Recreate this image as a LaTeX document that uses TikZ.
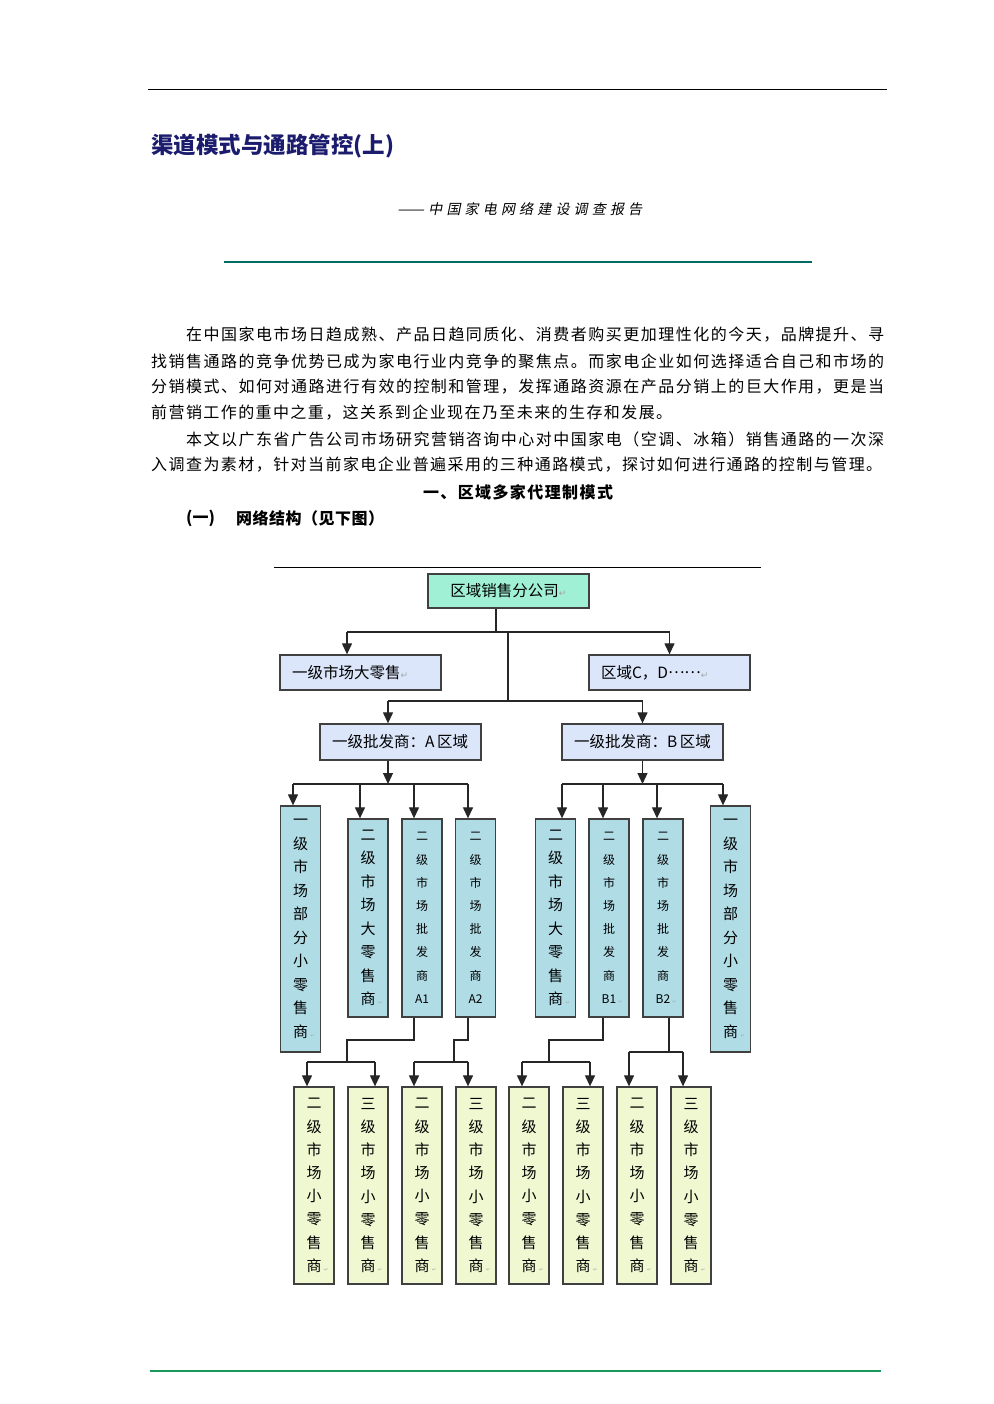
\documentclass[tikz,border=0pt]{standalone}
\usepackage{fontspec}
\usetikzlibrary{arrows.meta}
\setmainfont{Noto Sans CJK SC}
\newfontfamily\cjk{Noto Sans CJK SC}
\newfontfamily\cjkit[FakeSlant=0.2]{Noto Sans CJK SC}
\newfontfamily\dejavu{DejaVu Sans}
\definecolor{navy}{HTML}{1C1C6E}
\definecolor{tealrule}{HTML}{006B60}
\definecolor{greenrule}{HTML}{18995A}
\definecolor{mint}{HTML}{9FF0D4}
\definecolor{lav}{HTML}{DCE6FA}
\definecolor{lblue}{HTML}{B0DCE6}
\definecolor{pale}{HTML}{F0F8D2}
\definecolor{edge}{HTML}{404040}
\makeatletter
\def\spreadchars#1{#1\spread@next}
\def\spread@next#1{\ifx#1\relax\else\hfil#1\expandafter\spread@next\fi}
\makeatother
\newcommand{\mkrow}{\textcolor{gray!70}{\dejavu\fontsize{9}{9}\selectfont ↵}}
\newcommand{\mk}{\rlap{\,\textcolor{gray!70}{\dejavu\fontsize{5}{5}\selectfont ↵}}}
\newcommand{\bodyfont}{\cjk\fontsize{16}{18}\selectfont}
\begin{document}
\begin{tikzpicture}[x=1pt,y=-1pt,
  conn/.style={draw=black!85,line width=1.2pt},
  arr/.style={conn,-{Triangle[width=10pt,length=11pt]}},
  boxbase/.style={draw=edge,line width=1.3pt,inner sep=0pt},
  topbox/.style={boxbase,fill=mint,minimum width=161pt,minimum height=34pt,font=\cjk\fontsize{15.5}{18}\selectfont},
  rowbox/.style={boxbase,fill=lav,minimum width=161pt,minimum height=35pt,font=\cjk\fontsize{15.5}{18}\selectfont},
  vbox/.style={boxbase,fill=lblue,minimum width=40pt,minimum height=198pt,align=center,font=\cjk\fontsize{15}{23.5}\selectfont},
  vboxs/.style={vbox,font=\cjk\fontsize{12}{23.2}\selectfont},
  tallbox/.style={vbox,minimum height=246pt},
  botbox/.style={vbox,fill=pale,minimum height=197pt,font=\cjk\fontsize{15}{23.2}\selectfont},
  line/.style={inner sep=0pt,anchor=west,font=\bodyfont}
]
\fill[white] (0,0) rectangle (993,1404);
\useasboundingbox (0,0) rectangle (993,1404);

% page rules
\draw[black,line width=1pt] (148,90) -- (887,90);
\draw[tealrule,line width=2.2pt] (224,262) -- (812,262);
\draw[greenrule,line width=2.2pt] (150,1371) -- (881,1371);

% title
\node[inner sep=0pt,anchor=west,text=navy,font=\cjk\bfseries\fontsize{22.5}{26}\selectfont] (title) at (151,146) {渠道模式与通路管控(上)};
\node[inner sep=0pt,anchor=west,font=\cjkit\fontsize{14}{16}\selectfont] (subtitle) at (397,209) {\makebox[245pt][s]{\scalebox{1.15}[1]{——}\hfil\spreadchars 中国家电网络建设调查报告\relax}};

% body
\node[line] (p1) at (186,335) {\makebox[698pt][s]{\spreadchars 在中国家电市场日趋成熟、产品日趋同质化、消费者购买更加理性化的今天，品牌提升、寻\relax}};
\node[line] (p2) at (151,361) {\makebox[733pt][s]{\spreadchars 找销售通路的竞争优势已成为家电行业内竞争的聚焦点。而家电企业如何选择适合自己和市场的\relax}};
\node[line] (p3) at (151,387) {\makebox[733pt][s]{\spreadchars 分销模式、如何对通路进行有效的控制和管理，发挥通路资源在产品分销上的巨大作用，更是当\relax}};
\node[line] (p4) at (151,413) {\makebox[521pt][s]{\spreadchars 前营销工作的重中之重，这关系到企业现在乃至未来的生存和发展。\relax}};
\node[line] (p5) at (186,439) {\makebox[698pt][s]{\spreadchars 本文以广东省广告公司市场研究营销咨询中心对中国家电（空调、冰箱）销售通路的一次深\relax}};
\node[line] (p6) at (151,465) {\makebox[731pt][s]{\spreadchars 入调查为素材，针对当前家电企业普遍采用的三种通路模式，探讨如何进行通路的控制与管理。\relax}};
\node[inner sep=0pt,font=\bodyfont\bfseries] (h1) at (518,492) {\makebox[190pt][s]{\spreadchars 一、区域多家代理制模式\relax}};
\node[line,font=\bodyfont\bfseries] (h2a) at (186,518) {(一)};
\node[line,font=\bodyfont\bfseries] (h2b) at (236,518) {\makebox[148pt][s]{\spreadchars 网络结构（见下图）\relax}};

% diagram
\draw[black,line width=1pt] (274,567) -- (761,567);

\node[topbox] (hq) at (508.5,591) {区域销售分公司\mkrow};
\node[rowbox] (r2a) at (360.5,672.5) {\makebox[137pt][l]{一级市场大零售\mkrow}};
\node[rowbox] (r2b) at (669.5,672.5) {\makebox[137pt][l]{区域C，D\raisebox{0.3em}{……}\mkrow}};
\node[rowbox,minimum height=36pt] (r3a) at (400.5,742) {\makebox[137pt][l]{一级批发商：A\,区域}};
\node[rowbox,minimum height=36pt] (r3b) at (642.5,742) {\makebox[137pt][l]{一级批发商：B\,区域}};

\node[tallbox] (L1) at (300.5,929) {一\\级\\市\\场\\部\\分\\小\\零\\售\\商\mk};
\node[vbox] (L2) at (368,918) {二\\级\\市\\场\\大\\零\\售\\商\mk};
\node[vboxs] (L3) at (422,918) {二\\级\\市\\场\\批\\发\\商\\A1};
\node[vboxs] (L4) at (475.5,918) {二\\级\\市\\场\\批\\发\\商\\A2};
\node[vbox] (R1) at (555.5,918) {二\\级\\市\\场\\大\\零\\售\\商\mk};
\node[vboxs] (R2) at (609,918) {二\\级\\市\\场\\批\\发\\商\\B1\mk};
\node[vboxs] (R3) at (663,918) {二\\级\\市\\场\\批\\发\\商\\B2\mk};
\node[tallbox] (R4) at (730.5,929) {一\\级\\市\\场\\部\\分\\小\\零\\售\\商\mk};

\node[botbox] (B1) at (314,1185.5) {二\\级\\市\\场\\小\\零\\售\\商\mk};
\node[botbox] (B2) at (368,1185.5) {三\\级\\市\\场\\小\\零\\售\\商\mk};
\node[botbox] (B3) at (422,1185.5) {二\\级\\市\\场\\小\\零\\售\\商\mk};
\node[botbox] (B4) at (476,1185.5) {三\\级\\市\\场\\小\\零\\售\\商\mk};
\node[botbox] (B5) at (529,1185.5) {二\\级\\市\\场\\小\\零\\售\\商\mk};
\node[botbox] (B6) at (583,1185.5) {三\\级\\市\\场\\小\\零\\售\\商\mk};
\node[botbox] (B7) at (637,1185.5) {二\\级\\市\\场\\小\\零\\售\\商\mk};
\node[botbox] (B8) at (691,1185.5) {三\\级\\市\\场\\小\\零\\售\\商\mk};

% junction coordinates
\coordinate (j1) at (496,632);
\coordinate (j1l) at (347,632);
\coordinate (j1r) at (669.5,632);
\coordinate (t1) at (508,632);
\coordinate (t2) at (508,701);
\coordinate (j2l) at (388,701);
\coordinate (j2r) at (642.5,701);

\coordinate (ka) at (388,784);
\coordinate (kal) at (293,784);
\coordinate (ka2) at (360,784);
\coordinate (ka3) at (414,784);
\coordinate (kar) at (468,784);
\coordinate (kb) at (642.5,784);
\coordinate (kbl) at (562,784);
\coordinate (kb2) at (603,784);
\coordinate (kb3) at (657,784);
\coordinate (kbr) at (723,784);

\coordinate (m1) at (347,1040);  \coordinate (n1) at (347,1062);
\coordinate (n1l) at (307,1062); \coordinate (n1r) at (375,1062);
\coordinate (m2) at (454,1040);  \coordinate (n2) at (454,1062);
\coordinate (n2l) at (414,1062); \coordinate (n2r) at (468,1062);
\coordinate (m3) at (549,1040);  \coordinate (n3) at (549,1062);
\coordinate (n3l) at (522,1062); \coordinate (n3r) at (590,1062);
\coordinate (n4) at (669,1052);
\coordinate (n4l) at (629,1052); \coordinate (n4r) at (683,1052);

% level 1 -> 2
\draw[conn] ([xshift=-12.5pt]hq.south) -- (j1);
\draw[conn] (j1l) -- (j1r);
\draw[arr] (j1l) -- ([xshift=-13.5pt]r2a.north);
\draw[arr] (j1r) -- (r2b.north);
\draw[conn] (t1) -- (t2);
\draw[conn] (j2l) -- (j2r);
\draw[arr] (j2l) -- ([xshift=-12.5pt]r3a.north);
\draw[arr] (j2r) -- (r3b.north);

% level 3 -> 4 (A)
\draw[arr] ([xshift=-12.5pt]r3a.south) -- (ka);
\draw[conn] (kal) -- (kar);
\draw[arr] (kal) -- ([xshift=-7.5pt]L1.north);
\draw[arr] (ka2) -- ([xshift=-8pt]L2.north);
\draw[arr] (ka3) -- ([xshift=-8pt]L3.north);
\draw[arr] (kar) -- ([xshift=-7.5pt]L4.north);
% level 3 -> 4 (B)
\draw[arr] (r3b.south) -- (kb);
\draw[conn] (kbl) -- (kbr);
\draw[arr] (kbl) -- ([xshift=6.5pt]R1.north);
\draw[arr] (kb2) -- ([xshift=-6pt]R2.north);
\draw[arr] (kb3) -- ([xshift=-6pt]R3.north);
\draw[arr] (kbr) -- ([xshift=-7.5pt]R4.north);

% level 4 -> 5
\draw[conn] ([xshift=-8pt]L3.south) |- (m1) -- (n1);
\draw[conn] (n1l) -- (n1r);
\draw[arr] (n1l) -- ([xshift=-7pt]B1.north);
\draw[arr] (n1r) -- ([xshift=7pt]B2.north);

\draw[conn] ([xshift=-7.5pt]L4.south) |- (m2) -- (n2);
\draw[conn] (n2l) -- (n2r);
\draw[arr] (n2l) -- ([xshift=-8pt]B3.north);
\draw[arr] (n2r) -- ([xshift=-8pt]B4.north);

\draw[conn] ([xshift=-6pt]R2.south) |- (m3) -- (n3);
\draw[conn] (n3l) -- (n3r);
\draw[arr] (n3l) -- ([xshift=-7pt]B5.north);
\draw[arr] (n3r) -- ([xshift=7pt]B6.north);

\draw[conn] ([xshift=6pt]R3.south) -- (n4);
\draw[conn] (n4l) -- (n4r);
\draw[arr] (n4l) -- ([xshift=-8pt]B7.north);
\draw[arr] (n4r) -- ([xshift=-8pt]B8.north);
\end{tikzpicture}
\end{document}
